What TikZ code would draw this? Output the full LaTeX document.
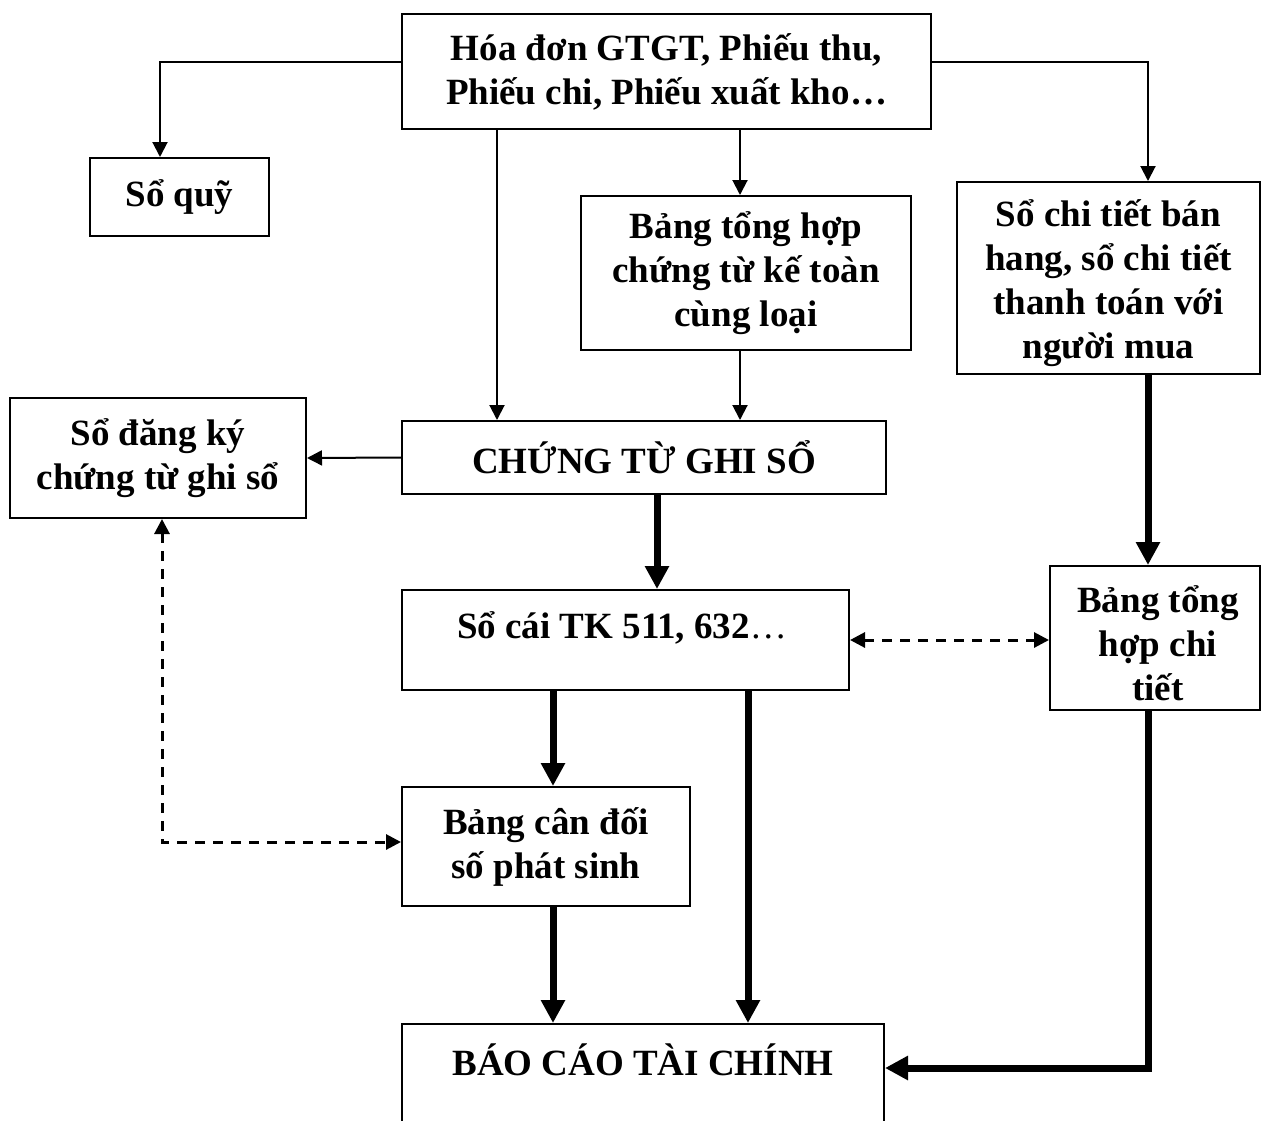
\documentclass[tikz,border=0pt]{standalone}
\usepackage{fontspec}
\setmainfont{Liberation Serif}
\usetikzlibrary{arrows.meta}
\begin{document}
\begin{tikzpicture}[x=1pt,y=-1pt,
  labeltext/.style={font=\bfseries\fontsize{37}{44}\selectfont,align=center,inner sep=0pt},
  box/.style={draw,line width=2pt,inner sep=0pt,labeltext},
  lightarrow/.style={line width=2pt,-{Triangle[length=15pt,width=15pt]}},
  heavyarrow/.style={line width=7pt,-{Triangle[length=23pt,width=23pt]}},
  dashlink/.style={line width=3pt,dash pattern=on 10pt off 8pt,
    {Triangle[length=15pt,width=15pt]}-{Triangle[length=15pt,width=15pt]}}]
\useasboundingbox (0,0) rectangle (1262,1120);

% boxes
\node[box,minimum width=529pt,minimum height=115pt] (top) at (666.5,71.5)
  {Hóa đơn GTGT, Phiếu thu,\\Phiếu chi, Phiếu xuất kho…};
\node[box,minimum width=179pt,minimum height=78pt] (soquy) at (179.5,197) {Sổ quỹ};
\node[box,minimum width=330pt,minimum height=154pt] (bth) at (746,273)
  {Bảng tổng hợp\\chứng từ kế toàn\\cùng loại};
\node[box,minimum width=303pt,minimum height=192pt] (sct) at (1108.5,278) {};
\node[labeltext] (scttext) at (1108.5,283)
  {Sổ chi tiết bán\\hang, sổ chi tiết\\thanh toán với\\người mua};
\node[box,minimum width=296pt,minimum height=120pt] (sodk) at (158,458)
  {Sổ đăng ký\\chứng từ ghi sổ};
\node[box,minimum width=484pt,minimum height=73pt] (ctgs) at (644,457.5)
  {CHỨNG TỪ GHI SỔ};
\node[box,minimum width=447pt,minimum height=100pt] (socai) at (625.5,640) {};
\node[labeltext] (socaitext) at (622,628) {Sổ cái TK 511, 632\textmd{…}};
\node[box,minimum width=210pt,minimum height=144pt] (bthct) at (1155,638) {};
\node[labeltext] (bthcttext) at (1158,643) {Bảng tổng\\hợp chi\\tiết};
\node[box,minimum width=288pt,minimum height=119pt] (bcd) at (546,846.5)
  {Bảng cân đối\\số phát sinh};
\node[box,minimum width=482pt,minimum height=106pt] (bcao) at (643,1077) {};
\node[labeltext] (bcaotext) at (643,1060) {BÁO CÁO TÀI CHÍNH};

% routing points
\coordinate (tl) at (160,62);
\coordinate (tr) at (1148,62);
\coordinate (xa) at (497,0);
\coordinate (xb) at (740,0);
\coordinate (xc) at (657,0);
\coordinate (xd) at (553,0);
\coordinate (xe) at (748,0);
\coordinate (xf) at (1148,0);
\coordinate (br) at (1148,1068);
\coordinate (dl) at (162,842);

% thin connectors
\draw[lightarrow] (top.west |- tl) -- (tl) -- (tl |- soquy.north);
\draw[lightarrow] (top.east |- tr) -- (tr) -- (tr |- sct.north);
\draw[lightarrow] (xa |- top.south) -- (xa |- ctgs.north);
\draw[lightarrow] (xb |- top.south) -- (xb |- bth.north);
\draw[lightarrow] (xb |- bth.south) -- (xb |- ctgs.north);
\draw[lightarrow] (ctgs.west) -- (sodk.east);

% thick connectors
\draw[heavyarrow] (xc |- ctgs.south) -- (xc |- socai.north);
\draw[heavyarrow] (xf |- sct.south) -- (xf |- bthct.north);
\draw[heavyarrow] (xd |- socai.south) -- (xd |- bcd.north);
\draw[heavyarrow] (xe |- socai.south) -- (xe |- bcao.north);
\draw[heavyarrow] (xd |- bcd.south) -- (xd |- bcao.north);
\draw[heavyarrow] (br |- bthct.south) -- (br) -- (br -| bcao.east);

% dashed two-way links
\draw[dashlink] (socai.east) -- (socai.east -| bthct.west);
\draw[dashlink] (dl |- sodk.south) -- (dl) -- (dl -| bcd.west);
\end{tikzpicture}
\end{document}
